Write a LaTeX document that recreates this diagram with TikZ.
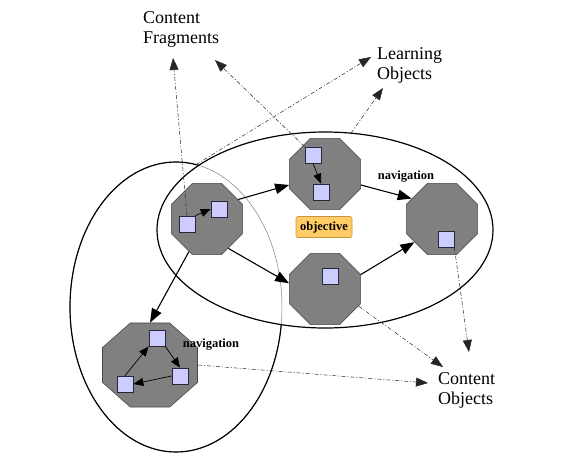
\documentclass[tikz,border=0pt]{standalone}
\usepackage{fontspec}
\setmainfont{Liberation Serif}
\usetikzlibrary{arrows.meta, shapes.geometric}

\definecolor{octfill}{RGB}{128,128,128}
\definecolor{octline}{RGB}{72,72,72}
\definecolor{fragfill}{RGB}{204,204,255}
\definecolor{fragline}{RGB}{40,40,60}
\definecolor{goalfill}{RGB}{255,204,102}
\definecolor{goalline}{RGB}{200,150,60}

\begin{document}
\begin{tikzpicture}[x=1pt, y=-1pt]
\tikzstyle{content_obj}=[regular polygon, regular polygon sides=8, fill=octfill, draw=octline, line width=0.6pt, minimum size=77pt, inner sep=0pt]
\tikzstyle{fragment}=[rectangle, fill=fragfill, draw=fragline, line width=0.7pt, minimum size=16pt, inner sep=0pt]
\tikzstyle{learn_obj}=[ellipse, inner sep=0pt, outer sep=0pt]
\tikzstyle{nav}=[-{Triangle[length=14pt, width=10.5pt]}, line width=1.1pt]
\tikzstyle{nav_in}=[-{Triangle[length=10pt, width=8pt]}, line width=0.7pt]
\tikzstyle{ref}=[-{Triangle[length=12pt, width=9pt]}, line width=0.5pt, black!85, dash pattern=on 4pt off 2pt on 1pt off 2pt]
\tikzstyle{label_txt}=[align=left, inner sep=0pt, font=\fontsize{18}{20}\selectfont]
\tikzstyle{nav_txt}=[inner sep=0pt, font=\fontsize{12.5}{14}\selectfont\bfseries]
\tikzstyle{goal}=[rectangle, rounded corners=2pt, fill=goalfill, draw=goalline, line width=0.6pt, minimum width=56pt, minimum height=21pt, inner sep=1pt, font=\fontsize{12.5}{14}\selectfont\bfseries]
%
\useasboundingbox (0,0) rectangle (568,460);
%
\node [learn_obj, draw=gray, line width=0.5pt, minimum width=212pt, minimum height=290pt] (lo_left) at (176,307) {};
\begin{scope}[even odd rule]
\clip (0,0) rectangle (568,460) (325,230) ellipse [x radius=168, y radius=98];
\draw [line width=1.2pt] (176,307) ellipse [x radius=106, y radius=145];
\end{scope}
\node [learn_obj, draw, line width=1.2pt, minimum width=336pt, minimum height=196pt] (lo_main) at (325,230) {};
%
\node [content_obj] (A) at (207,219) {};
\node [content_obj] (B) at (325,174) {};
\node [content_obj] (C) at (442,219) {};
\node [content_obj] (D) at (325,289) {};
\node [content_obj, minimum size=91pt, xscale=1.13, transform shape] (E) at (150,365) {};
%
\node [fragment] (a1) at (187,224) {};
\node [fragment] (a2) at (219,209) {};
\node [fragment] (b1) at (313,155) {};
\node [fragment] (b2) at (321,192) {};
\node [fragment] (c1) at (446,239) {};
\node [fragment] (d1) at (330,276) {};
\node [fragment] (e1) at (157,338) {};
\node [fragment] (e2) at (180,376) {};
\node [fragment] (e3) at (125,384) {};
%
\path (A.32) edge [nav] (B.197)
	(B.-17) edge [nav] (C.146)
	(A.-54) edge [nav] (D.171)
	(D.22) edge [nav] (C.220)
	(A.-119) edge [nav] (E.north);
\path (a1.north east) edge [nav_in] (a2.west)
	(b1.south) edge [nav_in] (b2.north)
	(e1.south east) edge [nav_in] (e2.north)
	(e2.west) edge [nav_in] (e3.east)
	(e3.north) edge [nav_in] (e1.south west);
%
\node [label_txt, anchor=north west] (frag_txt) at (143,11) {Content\\Fragments};
\node [label_txt, anchor=north west] (lo_txt) at (377,47) {Learning\\Objects};
\node [label_txt, anchor=north west] (co_txt) at (438,372) {Content\\Objects};
\node [nav_txt, anchor=base] (nav_top) at (406,179) {navigation};
\node [nav_txt, anchor=base] (nav_low) at (211,347) {navigation};
\node [goal] (goal) at (324,227) {objective};
%
\coordinate (frag_in1) at (173,58);
\coordinate (frag_in2) at (215,60);
\coordinate (lo_in1) at (371,57);
\coordinate (lo_in2) at (383,88);
\coordinate (co_in1) at (443,367);
\coordinate (co_in2) at (469,352);
\coordinate (co_in3) at (428,383);
\path (a1.north) edge [ref] (frag_in1)
	(b1.north west) edge [ref] (frag_in2)
	(lo_left.82) edge [ref] (lo_in1)
	(lo_main.75) edge [ref] (lo_in2)
	(D.-27) edge [ref] (co_in1)
	(c1.south east) edge [ref] (co_in2)
	(E.east) edge [ref] (co_in3);
\end{tikzpicture}
\end{document}
